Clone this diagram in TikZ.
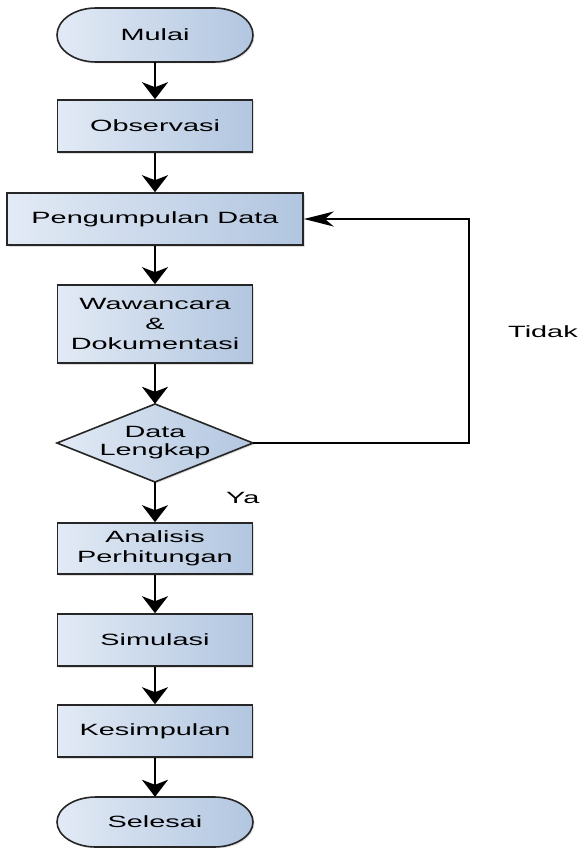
\documentclass[tikz,border=0pt]{standalone}
\usepackage{fontspec}
\setmainfont{Liberation Sans}
\newfontfamily\flowfont[FakeStretch=1.77]{Liberation Sans}
\usetikzlibrary{arrows.meta,shadows}
\definecolor{boxlight}{HTML}{E2EAF5}
\definecolor{boxdark}{HTML}{B2C6E0}
\definecolor{boxline}{HTML}{262626}
\tikzset{
  shapefill/.style={draw=boxline, line width=1.6pt, left color=boxlight, right color=boxdark,
    drop shadow={opacity=0.25, shadow xshift=1.5pt, shadow yshift=-1.5pt}},
  flowbox/.style={shapefill, rectangle, inner sep=0pt, minimum width=195pt, minimum height=52pt,
    font=\flowfont\fontsize{16.3}{20}\selectfont, align=center},
  flowtext/.style={inner sep=0pt, font=\flowfont\fontsize{16.3}{20}\selectfont, align=center},
  varrow/.style={line width=2pt, -{Stealth[length=17pt, width=26pt, inset=5pt]}},
  backline/.style={line width=1.6pt, -{Stealth[length=30pt, width=15pt, inset=9pt]}},
  lbl/.style={inner sep=0pt, font=\flowfont\fontsize{16.3}{20}\selectfont}
}
\begin{document}
\begin{tikzpicture}[x=1pt,y=1pt]
\useasboundingbox (0,0) rectangle (580,-848);
% Mulai terminal
\draw[shapefill] (96,-8) -- (214,-8) arc[start angle=90, end angle=-90, x radius=39, y radius=27]
  -- (96,-62) arc[start angle=270, end angle=90, x radius=39, y radius=27] -- cycle;
\node[flowtext, minimum width=196pt, minimum height=54pt] (mulai) at (155,-35) {Mulai};
\node[flowbox] (obs) at (155,-126) {Observasi};
\node[flowbox, minimum width=296pt] (peng) at (155,-219) {Pengumpulan Data};
\node[flowbox, minimum height=78pt] (waw) at (155,-324) {Wawancara\\\&\\Dokumentasi};
% Decision diamond
\draw[shapefill] (155,-404) -- (253,-443) -- (155,-482) -- (57,-443) -- cycle;
\node[flowtext, minimum width=196pt, minimum height=78pt, font=\flowfont\fontsize{16.3}{18}\selectfont] (dec) at (155,-443) {Data\\Lengkap};
\node[flowbox, minimum height=51pt] (anal) at (155,-548.5) {Analisis\\Perhitungan};
\node[flowbox] (sim) at (155,-640) {Simulasi};
\node[flowbox] (kes) at (155,-731) {Kesimpulan};
% Selesai terminal
\draw[shapefill] (96,-797) -- (214,-797) arc[start angle=90, end angle=-90, x radius=39, y radius=25]
  -- (96,-847) arc[start angle=270, end angle=90, x radius=39, y radius=25] -- cycle;
\node[flowtext, minimum width=196pt, minimum height=50pt] (sel) at (155,-822) {Selesai};
% connectors
\draw[varrow] (mulai.south) -- (obs.north);
\draw[varrow] (obs.south) -- (peng.north);
\draw[varrow] (peng.south) -- (waw.north);
\draw[varrow] (waw.south) -- (dec.north);
\draw[varrow] (dec.south) -- (anal.north);
\draw[varrow] (anal.south) -- (sim.north);
\draw[varrow] (sim.south) -- (kes.north);
\draw[varrow] (kes.south) -- (sel.north);
\coordinate (backR) at (469,-443);
\coordinate (backT) at (469,-219);
\draw[backline] (dec.east) -- (backR) -- (backT) -- (peng.east);
% labels
\node[lbl, anchor=base west] (tidak) at (508,-337) {Tidak};
\node[lbl, anchor=base west] (ya) at (226,-503) {Ya};
\end{tikzpicture}
\end{document}
